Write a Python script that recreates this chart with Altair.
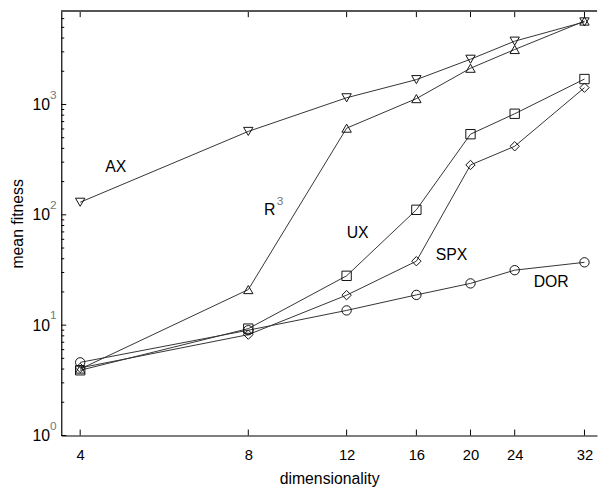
import altair as alt
import pandas as pd

# ---- data ----
dims = [4, 8, 12, 16, 20, 24, 32]
series_names = ["AX", "R3", "UX", "SPX", "DOR"]
ax_vals = [130, 570, 1150, 1680, 2570, 3750, 5600]
r3_vals = [4.0, 21, 610, 1130, 2130, 3150, 5700]
ux_vals = [3.9, 9.3, 28, 111, 538, 824, 1700]
spx_vals = [4.1, 8.2, 18.7, 38, 283, 418, 1420]
dor_vals = [4.6, 9.0, 13.6, 18.8, 23.9, 31.5, 37.1]

label_text = ["AX", "R", "UX", "SPX", "DOR"]
label_x = [4.63, 8.74, 12.56, 18.5, 27.9]
label_y = [271, 110, 68.4, 43.5, 24.4]
sup_text = ["3"]
sup_x = [9.12]
sup_y = [133]

x_ticks = [4, 8, 12, 16, 20, 24, 32]
y_major = [1, 10, 100, 1000]
y_exponents = ["0", "1", "2", "3"]
y_minor = [m * 10 ** k for k in range(4) for m in range(2, 10) if m * 10 ** k <= 7000]

all_vals = [ax_vals, r3_vals, ux_vals, spx_vals, dor_vals]
rows = []
for name, vals in zip(series_names, all_vals):
    for d, v in zip(dims, vals):
        rows.append({"dim": d, "fit": v, "series": name})
df = pd.DataFrame(rows)
lab_df = pd.DataFrame({"x": label_x, "y": label_y, "t": label_text})
sup_df = pd.DataFrame({"x": sup_x, "y": sup_y, "t": sup_text})
xt_df = pd.DataFrame({"x": x_ticks})
ymaj_df = pd.DataFrame({"y": y_major, "e": y_exponents})
ymin_df = pd.DataFrame({"y": y_minor})

FONT = "Liberation Sans"
xscale = alt.Scale(type="log", base=2, domain=[3.7, 33.7], nice=False)
yscale = alt.Scale(type="log", domain=[1, 7000], nice=False)

x_enc = alt.X("dim:Q", scale=xscale, title="dimensionality",
              axis=alt.Axis(values=x_ticks, ticks=False, tickSize=0, grid=False,
                            labelPadding=12, titlePadding=9, labelFlush=False,
                            labelFontSize=15, format="d"))
y_enc = alt.Y("fit:Q", scale=yscale, title="mean fitness",
              axis=alt.Axis(values=y_major, ticks=False, tickSize=0, grid=False,
                            labelPadding=12, titlePadding=6, labelFontSize=16,
                            labelExpr="'10'"))

shape_scale = alt.Scale(domain=series_names,
                        range=["triangle-down", "triangle-up", "square", "diamond", "circle"])
size_scale = alt.Scale(domain=series_names, range=[90, 90, 70, 60, 42])

lines = alt.Chart(df).mark_line(color="#333333", strokeWidth=1).encode(
    x=x_enc, y=y_enc, detail="series:N")

points = alt.Chart(df).mark_point(filled=False, color="#111111", strokeWidth=1, opacity=1).encode(
    x="dim:Q", y="fit:Q",
    shape=alt.Shape("series:N", scale=shape_scale, legend=None),
    size=alt.Size("series:N", scale=size_scale, legend=None))

labels = alt.Chart(lab_df).mark_text(font=FONT, fontSize=16, color="black",
                                     align="center", baseline="middle").encode(
    x="x:Q", y="y:Q", text="t:N")
sups = alt.Chart(sup_df).mark_text(font=FONT, fontSize=12, color="#777777",
                                   align="center", baseline="middle").encode(
    x="x:Q", y="y:Q", text="t:N")
exps = alt.Chart(ymaj_df).mark_text(font=FONT, fontSize=12, color="#777777",
                                    align="left", baseline="middle", dy=-10).encode(
    y="y:Q", x=alt.value(-11.5), text="e:N")

bottom_ticks = alt.Chart(xt_df).mark_rule(color="black", strokeWidth=1).encode(
    x="x:Q", y=alt.value(430), y2=alt.value(424))
top_ticks = alt.Chart(xt_df).mark_rule(color="black", strokeWidth=1).encode(
    x="x:Q", y=alt.value(0), y2=alt.value(6))
ymaj_ticks = alt.Chart(ymaj_df).mark_rule(color="black", strokeWidth=1).encode(
    y="y:Q", x=alt.value(0), x2=alt.value(5))
ymin_ticks = alt.Chart(ymin_df).mark_rule(color="black", strokeWidth=1).encode(
    y="y:Q", x=alt.value(0), x2=alt.value(3))
top_border = alt.Chart(xt_df).mark_rule(color="#555555", strokeWidth=1.5).encode(
    y=alt.value(0), x=alt.value(0), x2=alt.value(543))

chart = alt.layer(lines, points, labels, sups, exps, bottom_ticks, top_ticks,
                  ymaj_ticks, ymin_ticks, top_border).properties(
    width=543, height=430,
    padding={"left": 54, "top": 0, "right": 2, "bottom": 54},
    autosize=alt.AutoSizeParams(type="none"),
).configure_view(stroke=None).configure_axis(
    labelFont=FONT, titleFont=FONT, titleFontSize=16,
    labelColor="black", titleColor="black", titleFontWeight="normal",
    domainColor="black", domainWidth=1.2,
)

chart.save("out.html", embed_options={"renderer": "svg", "actions": False})
